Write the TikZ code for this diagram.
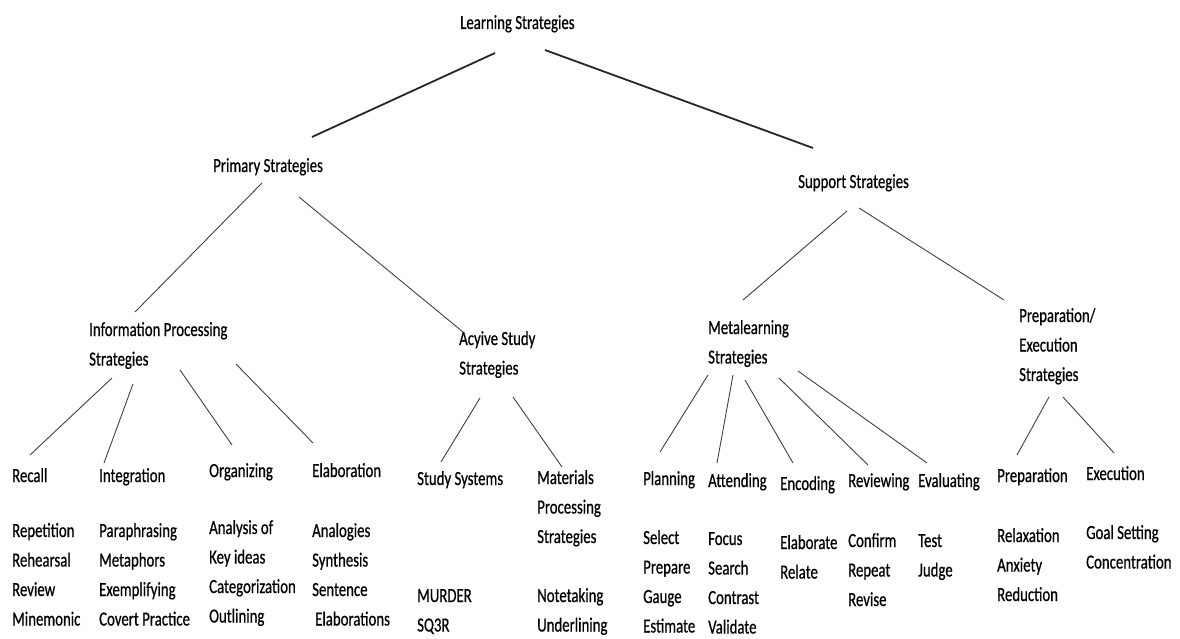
\documentclass[tikz,border=0pt]{standalone}
\usepackage{fontspec}
\setmainfont[FakeStretch=0.74,FakeBold=0.6]{Carlito}
\usetikzlibrary{calc}

\begin{document}
\begin{tikzpicture}[x=1pt,y=-1pt,
   lbl/.style={anchor=base west,inner sep=0pt,align=left,
      font=\fontsize{20}{29.5}\selectfont},
   link/.style={draw=black!75,line width=0.9pt},
   toplink/.style={draw=black!85,line width=1.8pt}]

   \useasboundingbox (0,0) rectangle (1180,639);

   % levels 1 and 2
   \node[lbl] (learn) at (460,29) {Learning Strategies};
   \node[lbl] (primary) at (213,172) {Primary Strategies};
   \node[lbl] (support) at (798,188) {Support Strategies};

   % level 3 (multi-line: base is the last line)
   \node[lbl] (info) at (89,365.5) {Information Processing\\Strategies};
   \node[lbl] (active) at (459,374.5) {Acyive Study\\Strategies};
   \node[lbl] (meta) at (708,363.5) {Metalearning\\Strategies};
   \node[lbl] (prepexec) at (1019,381) {Preparation/\\Execution\\Strategies};

   % level 4
   \node[lbl] (recall) at (12,482) {Recall};
   \node[lbl] (integ) at (99,482) {Integration};
   \node[lbl] (organ) at (209,477) {Organizing};
   \node[lbl] (elab) at (312,477) {Elaboration};
   \node[lbl] (studysys) at (417,485) {Study Systems};
   \node[lbl] (materials) at (537,543) {Materials\\Processing\\Strategies};
   \node[lbl] (planning) at (643,485) {Planning};
   \node[lbl] (attending) at (708,487) {Attending};
   \node[lbl] (encoding) at (780,490) {Encoding};
   \node[lbl] (reviewing) at (848,487) {Reviewing};
   \node[lbl] (evaluating) at (918,487) {Evaluating};
   \node[lbl] (preparation) at (997,482) {Preparation};
   \node[lbl] (execution) at (1086,480) {Execution};

   % examples
   \node[lbl] (recall-ex) at (12,625.5) {Repetition\\Rehearsal\\Review\\Minemonic};
   \node[lbl] (integ-ex) at (99,625.5) {Paraphrasing\\Metaphors\\Exemplifying\\Covert Practice};
   \node[lbl] (organ-ex) at (209,622.5) {Analysis of\\Key ideas\\Categorization\\Outlining};
   \node[lbl] (elab-ex) at (312,625.5) {Analogies\\Synthesis\\Sentence\\\hspace{3pt}Elaborations};
   \node[lbl] (studysys-ex) at (417,631.5) {MURDER\\SQ3R};
   \node[lbl] (materials-ex) at (537,631.5) {Notetaking\\Underlining};
   \node[lbl] (planning-ex) at (643,632.5) {Select\\Prepare\\Gauge\\Estimate};
   \node[lbl] (attending-ex) at (708,633.5) {Focus\\Search\\Contrast\\Validate};
   \node[lbl] (encoding-ex) at (780,578.5) {Elaborate\\Relate};
   \node[lbl] (reviewing-ex) at (848,606) {Confirm\\Repeat\\Revise};
   \node[lbl] (evaluating-ex) at (918,576.5) {Test\\Judge};
   \node[lbl] (preparation-ex) at (997,601) {Relaxation\\Anxiety\\Reduction};
   \node[lbl] (execution-ex) at (1086,568.5) {Goal Setting\\Concentration};

   \path[toplink] ($(learn.base west)+(35,24)$) edge ($(primary.base west)+(99,-35)$);
   \path[toplink] ($(learn.base west)+(85,21)$) edge ($(support.base west)+(15,-40)$);

   \path[link] ($(primary.base west)+(49,11)$) edge ($(info.base west)+(46,-53.5)$);
   \path[link] ($(primary.base west)+(86,25)$) edge ($(active.base west)+(4,-42.5)$);
   \path[link] ($(support.base west)+(49,23)$) edge ($(meta.base west)+(35,-63.5)$);
   \path[link] ($(support.base west)+(61,20)$) edge ($(prepexec.base west)+(-15,-81)$);

   \path[link] ($(info.base west)+(23,12.5)$) edge ($(recall.base west)+(18,-27)$);
   \path[link] ($(info.base west)+(44,18.5)$) edge ($(integ.base west)+(5,-19)$);
   \path[link] ($(info.base west)+(91,4.5)$) edge ($(organ.base west)+(23,-32)$);
   \path[link] ($(info.base west)+(147,-1.5)$) edge ($(elab.base west)+(1,-34)$);

   \path[link] ($(active.base west)+(21,23.5)$) edge ($(studysys.base west)+(24,-23)$);
   \path[link] ($(active.base west)+(54,22.5)$) edge ($(materials.base west)+(25,-76)$);

   \path[link] ($(meta.base west)+(0,11.5)$) edge ($(planning.base west)+(17,-33)$);
   \path[link] ($(meta.base west)+(25,11.5)$) edge ($(attending.base west)+(9,-24)$);
   \path[link] ($(meta.base west)+(37,16.5)$) edge ($(encoding.base west)+(13,-27)$);
   \path[link] ($(meta.base west)+(71,14.5)$) edge ($(reviewing.base west)+(20,-22)$);
   \path[link] ($(meta.base west)+(90,7.5)$) edge ($(evaluating.base west)+(9,-24)$);

   \path[link] ($(prepexec.base west)+(30,16)$) edge ($(preparation.base west)+(20,-27)$);
   \path[link] ($(prepexec.base west)+(44,16)$) edge ($(execution.base west)+(28,-27)$);

\end{tikzpicture}
\end{document}
